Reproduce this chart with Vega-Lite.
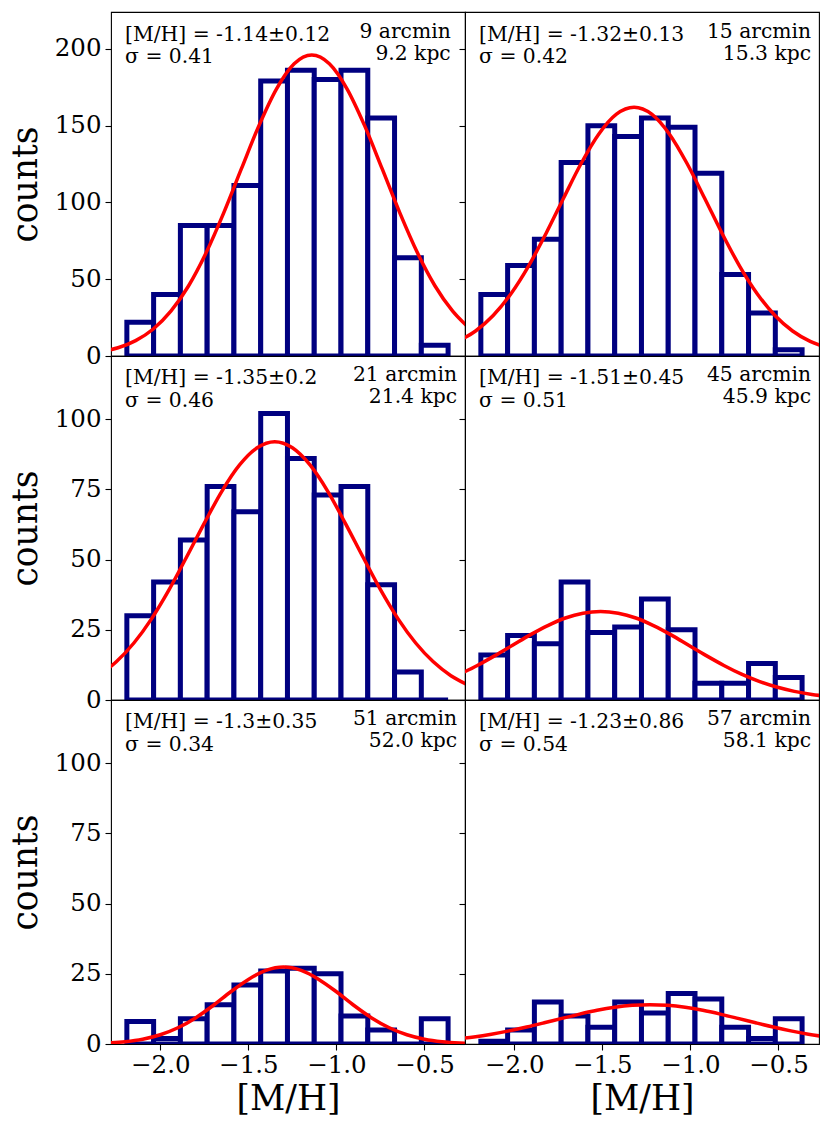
{
  "$schema": "https://vega.github.io/schema/vega-lite/v6.json",
  "padding": {"left": 7, "top": 11, "right": 5, "bottom": 5},
  "background": "#ffffff",
  "config": {
    "font": "DejaVu Serif",
    "view": {"stroke": "#000000", "strokeWidth": 1.1},
    "axis": {
      "grid": false, "domain": false, "tickColor": "#000000", "tickSize": 6, "tickWidth": 1.1,
      "labelColor": "#000000", "labelFont": "DejaVu Serif", "labelFontSize": 24.5,
      "titleFont": "DejaVu Serif", "titleFontSize": 34.5, "titleFontWeight": "normal", "titleColor": "#000000",
      "labelPadding": 4, "labelOverlap": false
    },
    "text": {"font": "DejaVu Serif", "fontSize": 20.3, "color": "#000000"}
  },
  "datasets": {
    "bars": [
      {"p":"p1","x0":-2.19,"x1":-2.038,"n":22},{"p":"p1","x0":-2.038,"x1":-1.886,"n":40},{"p":"p1","x0":-1.886,"x1":-1.734,"n":85},{"p":"p1","x0":-1.734,"x1":-1.582,"n":85},{"p":"p1","x0":-1.582,"x1":-1.43,"n":111},{"p":"p1","x0":-1.43,"x1":-1.278,"n":179},{"p":"p1","x0":-1.278,"x1":-1.126,"n":186},{"p":"p1","x0":-1.126,"x1":-0.974,"n":180},{"p":"p1","x0":-0.974,"x1":-0.822,"n":186},{"p":"p1","x0":-0.822,"x1":-0.67,"n":155},{"p":"p1","x0":-0.67,"x1":-0.518,"n":64},{"p":"p1","x0":-0.518,"x1":-0.366,"n":7},
      {"p":"p2","x0":-2.19,"x1":-2.038,"n":40},{"p":"p2","x0":-2.038,"x1":-1.886,"n":59},{"p":"p2","x0":-1.886,"x1":-1.734,"n":76},{"p":"p2","x0":-1.734,"x1":-1.582,"n":126},{"p":"p2","x0":-1.582,"x1":-1.43,"n":150},{"p":"p2","x0":-1.43,"x1":-1.278,"n":143},{"p":"p2","x0":-1.278,"x1":-1.126,"n":155},{"p":"p2","x0":-1.126,"x1":-0.974,"n":149},{"p":"p2","x0":-0.974,"x1":-0.822,"n":119},{"p":"p2","x0":-0.822,"x1":-0.67,"n":53},{"p":"p2","x0":-0.67,"x1":-0.518,"n":28},{"p":"p2","x0":-0.518,"x1":-0.366,"n":4},
      {"p":"p3","x0":-2.19,"x1":-2.038,"n":30},{"p":"p3","x0":-2.038,"x1":-1.886,"n":42},{"p":"p3","x0":-1.886,"x1":-1.734,"n":57},{"p":"p3","x0":-1.734,"x1":-1.582,"n":76},{"p":"p3","x0":-1.582,"x1":-1.43,"n":67},{"p":"p3","x0":-1.43,"x1":-1.278,"n":102},{"p":"p3","x0":-1.278,"x1":-1.126,"n":86},{"p":"p3","x0":-1.126,"x1":-0.974,"n":73},{"p":"p3","x0":-0.974,"x1":-0.822,"n":76},{"p":"p3","x0":-0.822,"x1":-0.67,"n":41},{"p":"p3","x0":-0.67,"x1":-0.518,"n":10},{"p":"p3","x0":-0.518,"x1":-0.366,"n":0},
      {"p":"p4","x0":-2.19,"x1":-2.038,"n":16},{"p":"p4","x0":-2.038,"x1":-1.886,"n":23},{"p":"p4","x0":-1.886,"x1":-1.734,"n":20},{"p":"p4","x0":-1.734,"x1":-1.582,"n":42},{"p":"p4","x0":-1.582,"x1":-1.43,"n":24},{"p":"p4","x0":-1.43,"x1":-1.278,"n":26},{"p":"p4","x0":-1.278,"x1":-1.126,"n":36},{"p":"p4","x0":-1.126,"x1":-0.974,"n":25},{"p":"p4","x0":-0.974,"x1":-0.822,"n":6},{"p":"p4","x0":-0.822,"x1":-0.67,"n":6},{"p":"p4","x0":-0.67,"x1":-0.518,"n":13},{"p":"p4","x0":-0.518,"x1":-0.366,"n":8},
      {"p":"p5","x0":-2.19,"x1":-2.038,"n":8},{"p":"p5","x0":-2.038,"x1":-1.886,"n":2},{"p":"p5","x0":-1.886,"x1":-1.734,"n":9},{"p":"p5","x0":-1.734,"x1":-1.582,"n":14},{"p":"p5","x0":-1.582,"x1":-1.43,"n":21},{"p":"p5","x0":-1.43,"x1":-1.278,"n":26},{"p":"p5","x0":-1.278,"x1":-1.126,"n":27},{"p":"p5","x0":-1.126,"x1":-0.974,"n":25},{"p":"p5","x0":-0.974,"x1":-0.822,"n":10},{"p":"p5","x0":-0.822,"x1":-0.67,"n":5},{"p":"p5","x0":-0.67,"x1":-0.518,"n":0},{"p":"p5","x0":-0.518,"x1":-0.366,"n":9},
      {"p":"p6","x0":-2.19,"x1":-2.038,"n":1},{"p":"p6","x0":-2.038,"x1":-1.886,"n":5},{"p":"p6","x0":-1.886,"x1":-1.734,"n":15},{"p":"p6","x0":-1.734,"x1":-1.582,"n":10},{"p":"p6","x0":-1.582,"x1":-1.43,"n":6},{"p":"p6","x0":-1.43,"x1":-1.278,"n":15},{"p":"p6","x0":-1.278,"x1":-1.126,"n":11},{"p":"p6","x0":-1.126,"x1":-0.974,"n":18},{"p":"p6","x0":-0.974,"x1":-0.822,"n":16},{"p":"p6","x0":-0.822,"x1":-0.67,"n":6},{"p":"p6","x0":-0.67,"x1":-0.518,"n":2},{"p":"p6","x0":-0.518,"x1":-0.366,"n":9}
    ],
    "fit": [
      {"p":"p1","x":-2.34,"y":2.7},{"p":"p1","x":-2.24,"y":5.36},{"p":"p1","x":-2.14,"y":10.0},{"p":"p1","x":-2.04,"y":17.6},{"p":"p1","x":-1.94,"y":29.2},{"p":"p1","x":-1.84,"y":45.6},{"p":"p1","x":-1.74,"y":67.2},{"p":"p1","x":-1.64,"y":93.2},{"p":"p1","x":-1.54,"y":121.8},{"p":"p1","x":-1.44,"y":150.0},{"p":"p1","x":-1.34,"y":174.0},{"p":"p1","x":-1.24,"y":190.3},{"p":"p1","x":-1.14,"y":196},{"p":"p1","x":-1.04,"y":190.3},{"p":"p1","x":-0.94,"y":174.0},{"p":"p1","x":-0.84,"y":150.0},{"p":"p1","x":-0.74,"y":121.8},{"p":"p1","x":-0.64,"y":93.2},{"p":"p1","x":-0.54,"y":67.2},{"p":"p1","x":-0.44,"y":45.6},{"p":"p1","x":-0.34,"y":29.2},{"p":"p1","x":-0.24,"y":17.6},
      {"p":"p2","x":-2.32,"y":9.51},{"p":"p2","x":-2.22,"y":16.3},{"p":"p2","x":-2.12,"y":26.4},{"p":"p2","x":-2.02,"y":40.4},{"p":"p2","x":-1.92,"y":58.4},{"p":"p2","x":-1.82,"y":79.8},{"p":"p2","x":-1.72,"y":102.9},{"p":"p2","x":-1.62,"y":125.5},{"p":"p2","x":-1.52,"y":144.6},{"p":"p2","x":-1.42,"y":157.5},{"p":"p2","x":-1.32,"y":162},{"p":"p2","x":-1.22,"y":157.5},{"p":"p2","x":-1.12,"y":144.6},{"p":"p2","x":-1.02,"y":125.5},{"p":"p2","x":-0.92,"y":102.9},{"p":"p2","x":-0.82,"y":79.8},{"p":"p2","x":-0.72,"y":58.4},{"p":"p2","x":-0.62,"y":40.4},{"p":"p2","x":-0.52,"y":26.4},{"p":"p2","x":-0.42,"y":16.3},{"p":"p2","x":-0.32,"y":9.51},{"p":"p2","x":-0.22,"y":5.25},
      {"p":"p3","x":-2.35,"y":8.66},{"p":"p3","x":-2.25,"y":13.6},{"p":"p3","x":-2.15,"y":20.3},{"p":"p3","x":-2.05,"y":28.9},{"p":"p3","x":-1.95,"y":39.3},{"p":"p3","x":-1.85,"y":51.0},{"p":"p3","x":-1.75,"y":63.0},{"p":"p3","x":-1.65,"y":74.4},{"p":"p3","x":-1.55,"y":83.7},{"p":"p3","x":-1.45,"y":89.8},{"p":"p3","x":-1.35,"y":92},{"p":"p3","x":-1.25,"y":89.8},{"p":"p3","x":-1.15,"y":83.7},{"p":"p3","x":-1.05,"y":74.4},{"p":"p3","x":-0.95,"y":63.0},{"p":"p3","x":-0.85,"y":51.0},{"p":"p3","x":-0.75,"y":39.3},{"p":"p3","x":-0.65,"y":28.9},{"p":"p3","x":-0.55,"y":20.3},{"p":"p3","x":-0.45,"y":13.6},{"p":"p3","x":-0.35,"y":8.66},{"p":"p3","x":-0.25,"y":5.27},
      {"p":"p4","x":-2.31,"y":9.2},{"p":"p4","x":-2.21,"y":12.3},{"p":"p4","x":-2.11,"y":15.8},{"p":"p4","x":-2.01,"y":19.5},{"p":"p4","x":-1.91,"y":23.2},{"p":"p4","x":-1.81,"y":26.5},{"p":"p4","x":-1.71,"y":29.2},{"p":"p4","x":-1.61,"y":30.9},{"p":"p4","x":-1.51,"y":31.5},{"p":"p4","x":-1.41,"y":30.9},{"p":"p4","x":-1.31,"y":29.2},{"p":"p4","x":-1.21,"y":26.5},{"p":"p4","x":-1.11,"y":23.2},{"p":"p4","x":-1.01,"y":19.5},{"p":"p4","x":-0.91,"y":15.8},{"p":"p4","x":-0.81,"y":12.3},{"p":"p4","x":-0.71,"y":9.2},{"p":"p4","x":-0.61,"y":6.64},{"p":"p4","x":-0.51,"y":4.61},{"p":"p4","x":-0.41,"y":3.08},{"p":"p4","x":-0.31,"y":1.98},{"p":"p4","x":-0.21,"y":1.22},
      {"p":"p5","x":-2.3,"y":0.36},{"p":"p5","x":-2.2,"y":0.82},{"p":"p5","x":-2.1,"y":1.72},{"p":"p5","x":-2.0,"y":3.29},{"p":"p5","x":-1.9,"y":5.78},{"p":"p5","x":-1.8,"y":9.29},{"p":"p5","x":-1.7,"y":13.7},{"p":"p5","x":-1.6,"y":18.6},{"p":"p5","x":-1.5,"y":23.0},{"p":"p5","x":-1.4,"y":26.2},{"p":"p5","x":-1.3,"y":27.4},{"p":"p5","x":-1.2,"y":26.2},{"p":"p5","x":-1.1,"y":23.0},{"p":"p5","x":-1.0,"y":18.6},{"p":"p5","x":-0.9,"y":13.7},{"p":"p5","x":-0.8,"y":9.29},{"p":"p5","x":-0.7,"y":5.78},{"p":"p5","x":-0.6,"y":3.29},{"p":"p5","x":-0.5,"y":1.72},{"p":"p5","x":-0.4,"y":0.82},{"p":"p5","x":-0.3,"y":0.36},{"p":"p5","x":-0.2,"y":0.15},
      {"p":"p6","x":-2.33,"y":1.76},{"p":"p6","x":-2.23,"y":2.52},{"p":"p6","x":-2.13,"y":3.49},{"p":"p6","x":-2.03,"y":4.67},{"p":"p6","x":-1.93,"y":6.04},{"p":"p6","x":-1.83,"y":7.55},{"p":"p6","x":-1.73,"y":9.12},{"p":"p6","x":-1.63,"y":10.64},{"p":"p6","x":-1.53,"y":12.0},{"p":"p6","x":-1.43,"y":13.07},{"p":"p6","x":-1.33,"y":13.76},{"p":"p6","x":-1.23,"y":14},{"p":"p6","x":-1.13,"y":13.76},{"p":"p6","x":-1.03,"y":13.07},{"p":"p6","x":-0.93,"y":12.0},{"p":"p6","x":-0.83,"y":10.64},{"p":"p6","x":-0.73,"y":9.12},{"p":"p6","x":-0.63,"y":7.55},{"p":"p6","x":-0.53,"y":6.04},{"p":"p6","x":-0.43,"y":4.67},{"p":"p6","x":-0.33,"y":3.49},{"p":"p6","x":-0.23,"y":2.52}
    ],
    "notes": [
      {"p":"p1","left":"[M/H] = -1.14±0.12\nσ = 0.41","right":"9 arcmin\n9.2 kpc"},
      {"p":"p2","left":"[M/H] = -1.32±0.13\nσ = 0.42","right":"15 arcmin\n15.3 kpc"},
      {"p":"p3","left":"[M/H] = -1.35±0.2\nσ = 0.46","right":"21 arcmin\n21.4 kpc"},
      {"p":"p4","left":"[M/H] = -1.51±0.45\nσ = 0.51","right":"45 arcmin\n45.9 kpc"},
      {"p":"p5","left":"[M/H] = -1.3±0.35\nσ = 0.34","right":"51 arcmin\n52.0 kpc"},
      {"p":"p6","left":"[M/H] = -1.23±0.86\nσ = 0.54","right":"57 arcmin\n58.1 kpc"}
    ]
  },
  "columns": 2,
  "spacing": 0,
  "bounds": "flush",
  "concat": [
    {
      "width": 354, "height": 344,
      "layer": [
        {"data": {"name": "bars"}, "transform": [{"filter": "datum.p === 'p1'"}],
         "mark": {"type": "bar", "fill": "#ffffff", "stroke": "#000080", "strokeWidth": 5, "clip": true},
         "encoding": {
           "x": {"field": "x0", "type": "quantitative", "scale": {"domain": [-2.28, -0.27], "nice": false, "zero": false}, "axis": null},
           "x2": {"field": "x1"},
           "y": {"field": "n", "type": "quantitative", "scale": {"domain": [0, 224], "nice": false}, "axis": {"values": [0, 50, 100, 150, 200], "title": "counts", "titlePadding": 11}},
           "y2": {"datum": 0}
         }},
        {"data": {"name": "fit"}, "transform": [{"filter": "datum.p === 'p1'"}],
         "mark": {"type": "line", "color": "#ff0000", "strokeWidth": 3.5, "clip": true, "interpolate": "monotone"},
         "encoding": {"x": {"field": "x", "type": "quantitative"}, "y": {"field": "y", "type": "quantitative"}}},
        {"data": {"name": "notes"}, "transform": [{"filter": "datum.p === 'p1'"}],
         "mark": {"type": "text", "align": "left", "baseline": "alphabetic", "lineBreak": "\n", "lineHeight": 22.3},
         "encoding": {"x": {"datum": -2.2, "type": "quantitative"}, "y": {"datum": 205.1, "type": "quantitative"}, "text": {"field": "left"}}},
        {"data": {"name": "notes"}, "transform": [{"filter": "datum.p === 'p1'"}],
         "mark": {"type": "text", "align": "right", "baseline": "alphabetic", "lineBreak": "\n", "lineHeight": 22.3},
         "encoding": {"x": {"datum": -0.351, "type": "quantitative"}, "y": {"datum": 207.3, "type": "quantitative"}, "text": {"field": "right"}}}
      ]
    },
    {
      "width": 354, "height": 344,
      "layer": [
        {"data": {"name": "bars"}, "transform": [{"filter": "datum.p === 'p2'"}],
         "mark": {"type": "bar", "fill": "#ffffff", "stroke": "#000080", "strokeWidth": 5, "clip": true},
         "encoding": {
           "x": {"field": "x0", "type": "quantitative", "scale": {"domain": [-2.28, -0.27], "nice": false, "zero": false}, "axis": null},
           "x2": {"field": "x1"},
           "y": {"field": "n", "type": "quantitative", "scale": {"domain": [0, 224], "nice": false}, "axis": {"values": [0, 50, 100, 150, 200], "labels": false, "title": null}},
           "y2": {"datum": 0}
         }},
        {"data": {"name": "fit"}, "transform": [{"filter": "datum.p === 'p2'"}],
         "mark": {"type": "line", "color": "#ff0000", "strokeWidth": 3.5, "clip": true, "interpolate": "monotone"},
         "encoding": {"x": {"field": "x", "type": "quantitative"}, "y": {"field": "y", "type": "quantitative"}}},
        {"data": {"name": "notes"}, "transform": [{"filter": "datum.p === 'p2'"}],
         "mark": {"type": "text", "align": "left", "baseline": "alphabetic", "lineBreak": "\n", "lineHeight": 22.3},
         "encoding": {"x": {"datum": -2.2, "type": "quantitative"}, "y": {"datum": 205.1, "type": "quantitative"}, "text": {"field": "left"}}},
        {"data": {"name": "notes"}, "transform": [{"filter": "datum.p === 'p2'"}],
         "mark": {"type": "text", "align": "right", "baseline": "alphabetic", "lineBreak": "\n", "lineHeight": 22.3},
         "encoding": {"x": {"datum": -0.315, "type": "quantitative"}, "y": {"datum": 207.3, "type": "quantitative"}, "text": {"field": "right"}}}
      ]
    },
    {
      "width": 354, "height": 344,
      "layer": [
        {"data": {"name": "bars"}, "transform": [{"filter": "datum.p === 'p3'"}],
         "mark": {"type": "bar", "fill": "#ffffff", "stroke": "#000080", "strokeWidth": 5, "clip": true},
         "encoding": {
           "x": {"field": "x0", "type": "quantitative", "scale": {"domain": [-2.28, -0.27], "nice": false, "zero": false}, "axis": null},
           "x2": {"field": "x1"},
           "y": {"field": "n", "type": "quantitative", "scale": {"domain": [0, 122.5], "nice": false}, "axis": {"values": [0, 25, 50, 75, 100], "title": "counts", "titlePadding": 11}},
           "y2": {"datum": 0}
         }},
        {"data": {"name": "fit"}, "transform": [{"filter": "datum.p === 'p3'"}],
         "mark": {"type": "line", "color": "#ff0000", "strokeWidth": 3.5, "clip": true, "interpolate": "monotone"},
         "encoding": {"x": {"field": "x", "type": "quantitative"}, "y": {"field": "y", "type": "quantitative"}}},
        {"data": {"name": "notes"}, "transform": [{"filter": "datum.p === 'p3'"}],
         "mark": {"type": "text", "align": "left", "baseline": "alphabetic", "lineBreak": "\n", "lineHeight": 22.3},
         "encoding": {"x": {"datum": -2.2, "type": "quantitative"}, "y": {"datum": 112.4, "type": "quantitative"}, "text": {"field": "left"}}},
        {"data": {"name": "notes"}, "transform": [{"filter": "datum.p === 'p3'"}],
         "mark": {"type": "text", "align": "right", "baseline": "alphabetic", "lineBreak": "\n", "lineHeight": 22.3},
         "encoding": {"x": {"datum": -0.315, "type": "quantitative"}, "y": {"datum": 113.6, "type": "quantitative"}, "text": {"field": "right"}}}
      ]
    },
    {
      "width": 354, "height": 344,
      "layer": [
        {"data": {"name": "bars"}, "transform": [{"filter": "datum.p === 'p4'"}],
         "mark": {"type": "bar", "fill": "#ffffff", "stroke": "#000080", "strokeWidth": 5, "clip": true},
         "encoding": {
           "x": {"field": "x0", "type": "quantitative", "scale": {"domain": [-2.28, -0.27], "nice": false, "zero": false}, "axis": null},
           "x2": {"field": "x1"},
           "y": {"field": "n", "type": "quantitative", "scale": {"domain": [0, 122.5], "nice": false}, "axis": {"values": [0, 25, 50, 75, 100], "labels": false, "title": null}},
           "y2": {"datum": 0}
         }},
        {"data": {"name": "fit"}, "transform": [{"filter": "datum.p === 'p4'"}],
         "mark": {"type": "line", "color": "#ff0000", "strokeWidth": 3.5, "clip": true, "interpolate": "monotone"},
         "encoding": {"x": {"field": "x", "type": "quantitative"}, "y": {"field": "y", "type": "quantitative"}}},
        {"data": {"name": "notes"}, "transform": [{"filter": "datum.p === 'p4'"}],
         "mark": {"type": "text", "align": "left", "baseline": "alphabetic", "lineBreak": "\n", "lineHeight": 22.3},
         "encoding": {"x": {"datum": -2.2, "type": "quantitative"}, "y": {"datum": 112.4, "type": "quantitative"}, "text": {"field": "left"}}},
        {"data": {"name": "notes"}, "transform": [{"filter": "datum.p === 'p4'"}],
         "mark": {"type": "text", "align": "right", "baseline": "alphabetic", "lineBreak": "\n", "lineHeight": 22.3},
         "encoding": {"x": {"datum": -0.315, "type": "quantitative"}, "y": {"datum": 113.6, "type": "quantitative"}, "text": {"field": "right"}}}
      ]
    },
    {
      "width": 354, "height": 344,
      "layer": [
        {"data": {"name": "bars"}, "transform": [{"filter": "datum.p === 'p5'"}],
         "mark": {"type": "bar", "fill": "#ffffff", "stroke": "#000080", "strokeWidth": 5, "clip": true},
         "encoding": {
           "x": {"field": "x0", "type": "quantitative", "scale": {"domain": [-2.28, -0.27], "nice": false, "zero": false}, "axis": {"values": [-2, -1.5, -1, -0.5], "format": ".1f", "title": "[M/H]", "labelPadding": 3, "titlePadding": 6}},
           "x2": {"field": "x1"},
           "y": {"field": "n", "type": "quantitative", "scale": {"domain": [0, 122.5], "nice": false}, "axis": {"values": [0, 25, 50, 75, 100], "title": "counts", "titlePadding": 11}},
           "y2": {"datum": 0}
         }},
        {"data": {"name": "fit"}, "transform": [{"filter": "datum.p === 'p5'"}],
         "mark": {"type": "line", "color": "#ff0000", "strokeWidth": 3.5, "clip": true, "interpolate": "monotone"},
         "encoding": {"x": {"field": "x", "type": "quantitative"}, "y": {"field": "y", "type": "quantitative"}}},
        {"data": {"name": "notes"}, "transform": [{"filter": "datum.p === 'p5'"}],
         "mark": {"type": "text", "align": "left", "baseline": "alphabetic", "lineBreak": "\n", "lineHeight": 22.3},
         "encoding": {"x": {"datum": -2.2, "type": "quantitative"}, "y": {"datum": 112.4, "type": "quantitative"}, "text": {"field": "left"}}},
        {"data": {"name": "notes"}, "transform": [{"filter": "datum.p === 'p5'"}],
         "mark": {"type": "text", "align": "right", "baseline": "alphabetic", "lineBreak": "\n", "lineHeight": 22.3},
         "encoding": {"x": {"datum": -0.315, "type": "quantitative"}, "y": {"datum": 113.6, "type": "quantitative"}, "text": {"field": "right"}}}
      ]
    },
    {
      "width": 354, "height": 344,
      "layer": [
        {"data": {"name": "bars"}, "transform": [{"filter": "datum.p === 'p6'"}],
         "mark": {"type": "bar", "fill": "#ffffff", "stroke": "#000080", "strokeWidth": 5, "clip": true},
         "encoding": {
           "x": {"field": "x0", "type": "quantitative", "scale": {"domain": [-2.28, -0.27], "nice": false, "zero": false}, "axis": {"values": [-2, -1.5, -1, -0.5], "format": ".1f", "title": "[M/H]", "labelPadding": 3, "titlePadding": 6}},
           "x2": {"field": "x1"},
           "y": {"field": "n", "type": "quantitative", "scale": {"domain": [0, 122.5], "nice": false}, "axis": {"values": [0, 25, 50, 75, 100], "labels": false, "title": null}},
           "y2": {"datum": 0}
         }},
        {"data": {"name": "fit"}, "transform": [{"filter": "datum.p === 'p6'"}],
         "mark": {"type": "line", "color": "#ff0000", "strokeWidth": 3.5, "clip": true, "interpolate": "monotone"},
         "encoding": {"x": {"field": "x", "type": "quantitative"}, "y": {"field": "y", "type": "quantitative"}}},
        {"data": {"name": "notes"}, "transform": [{"filter": "datum.p === 'p6'"}],
         "mark": {"type": "text", "align": "left", "baseline": "alphabetic", "lineBreak": "\n", "lineHeight": 22.3},
         "encoding": {"x": {"datum": -2.2, "type": "quantitative"}, "y": {"datum": 112.4, "type": "quantitative"}, "text": {"field": "left"}}},
        {"data": {"name": "notes"}, "transform": [{"filter": "datum.p === 'p6'"}],
         "mark": {"type": "text", "align": "right", "baseline": "alphabetic", "lineBreak": "\n", "lineHeight": 22.3},
         "encoding": {"x": {"datum": -0.315, "type": "quantitative"}, "y": {"datum": 113.6, "type": "quantitative"}, "text": {"field": "right"}}}
      ]
    }
  ]
}
